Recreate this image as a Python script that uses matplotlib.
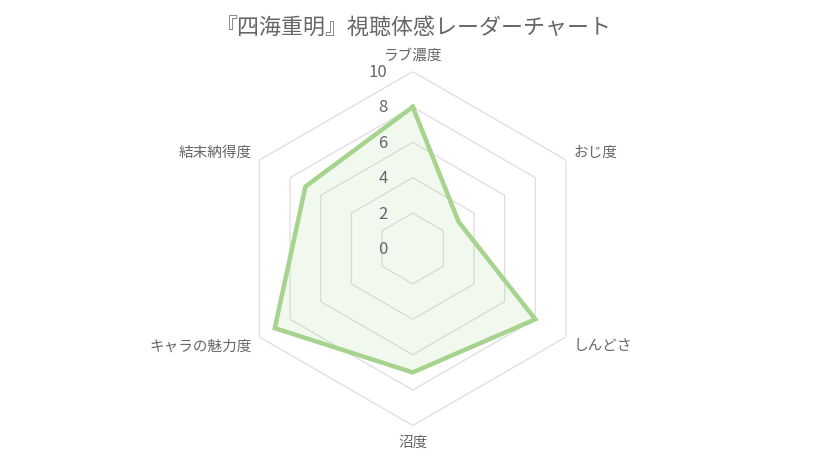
import numpy as np
import matplotlib
matplotlib.use('Agg')
import matplotlib.pyplot as plt
from matplotlib.transforms import offset_copy

plt.rcParams['font.family'] = ['Noto Sans CJK JP', 'DejaVu Sans']

categories = ['ラブ濃度', 'おじ度', 'しんどさ', '沼度', 'キャラの魅力度', '結末納得度']
values = [8, 3, 8, 7, 9, 7]
ticks = [0, 2, 4, 6, 8, 10]
title = '『四海重明』視聴体感レーダーチャート'

line_color = '#a6d38d'
grid_color = '#dddddd'
text_color = '#666666'

fig = plt.figure(figsize=(8.28, 4.6), dpi=100)
ax = fig.add_axes([0.2847, 0.0728, 0.4275, 0.7696], projection='polar')
ax.set_theta_offset(np.pi / 2)
ax.set_theta_direction(-1)
ax.set_ylim(0, 10)
ax.axis('off')

n = len(categories)
angles = np.linspace(0, 2 * np.pi, n, endpoint=False)
closed = np.append(angles, angles[0])

# hexagonal grid (no spokes in the original)
for t in ticks[1:]:
    ax.plot(closed, [t] * (n + 1), color=grid_color, lw=0.9, zorder=1)

# data
vals = values + values[:1]
ax.fill(closed, vals, color=line_color, alpha=0.15, lw=0, zorder=2)
ax.plot(closed, vals, color=line_color, lw=3.2, solid_joinstyle='miter', zorder=3)

# tick labels
trans = offset_copy(ax.transData, fig=fig, x=-18, y=0, units='points')
for t in ticks:
    ax.text(0, t, str(t), transform=trans, ha='right', va='center',
            fontsize=12, color=text_color, zorder=4)

# category labels
for a, lab in zip(angles, categories):
    s, c = np.sin(a), np.cos(a)
    dx, dy = 6 * s, 12 * c
    if abs(s) < 0.01:
        ha = 'center'
    elif s > 0:
        ha = 'left'
    else:
        ha = 'right'
    tr = offset_copy(ax.transData, fig=fig, x=dx, y=dy, units='points')
    ax.text(a, 10, lab, transform=tr, ha=ha, va='center',
            fontsize=10.5, color=text_color)

fig.text(0.5, 0.938, title, ha='center', va='center', fontsize=15.8, color=text_color)

fig.savefig('out.png', dpi=100)
